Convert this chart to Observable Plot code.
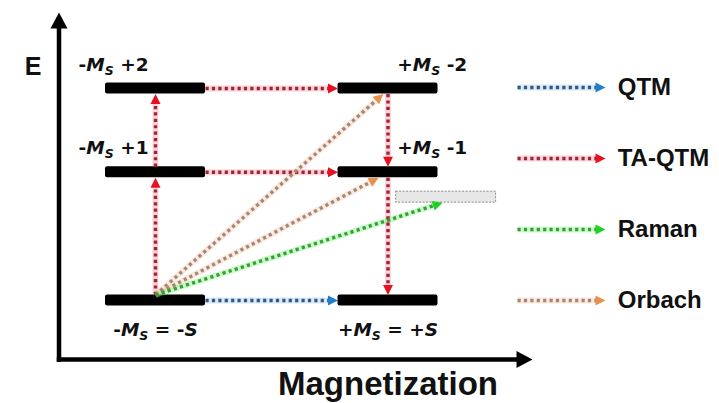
<!DOCTYPE html>
<html>
<head>
<meta charset="utf-8">
<script src="https://cdn.jsdelivr.net/npm/d3@7"></script>
<script src="https://cdn.jsdelivr.net/npm/@observablehq/plot@0.6"></script>
<style>
html, body { margin: 0; padding: 0; background: #fff; }
</style>
</head>
<body>
<script>
// ---------- data ----------
const levelIds    = ["L0", "L1", "L2", "R0", "R1", "R2"];
const levelM      = [-1, -1, -1, 1, 1, 1];          // magnetization side
const levelE      = [0, 1.21, 2, 0, 1.21, 2];       // energy
const levelLabels = ["-M_S = -S", "-M_S +1", "-M_S +2", "+M_S = +S", "+M_S -1", "+M_S -2"];
const virtualM = 1.5, virtualE = 0.975;             // Raman virtual state

const processes = ["QTM", "TA-QTM", "Raman", "Orbach"];

// [process, from level, from side, to level, to side, landing magnetization]
const transitions = [
  ["QTM",    "L0", "right",  "R0", "left"],
  ["TA-QTM", "L0", "top",    "L1", "bottom"],
  ["TA-QTM", "L1", "top",    "L2", "bottom"],
  ["TA-QTM", "L2", "right",  "R2", "left"],
  ["TA-QTM", "L1", "right",  "R1", "left"],
  ["TA-QTM", "R2", "bottom", "R1", "top"],
  ["TA-QTM", "R1", "bottom", "R0", "top"],
  ["Orbach", "L0", "top",    "R2", "bottom", 0.96],
  ["Orbach", "L0", "top",    "R1", "bottom", 0.92],
  ["Raman",  "L0", "top",    "V",  "bottom", 1.47]
];

const axisTitles = ["E", "Magnetization"];

// ---------- styles / layout ----------
const headColor = {"QTM": "#1f7fd0", "TA-QTM": "#e8101e", "Raman": "#22d022", "Orbach": "#e8914e"};
const dotColor  = {"QTM": "#34587f", "TA-QTM": "#a02436", "Raman": "#35a035", "Orbach": "#a3877a"};
const haloColor = {"QTM": "#7fb6e6", "TA-QTM": "#f27080", "Raman": "#55ee55", "Orbach": "#f6b892"};

const W = 719, H = 403;
const xDomain = [-2.3333, 3.8516];
const yDomain = [-0.9717, 2.8302];
const kx = W / (xDomain[1] - xDomain[0]);
const ky = H / (yDomain[1] - yDomain[0]);
const hw = 50 / kx;   // bar half width
const ht = 5.5 / ky;  // bar half thickness

const levels = levelIds.map((id, i) => ({id, m: levelM[i], e: levelE[i], label: levelLabels[i]}));
const byId = Object.fromEntries(levels.map(d => [d.id, d]));
byId.V = {id: "V", m: virtualM, e: virtualE};

function attach(id, side, at) {
  const L = byId[id];
  if (side === "right") return [L.m + hw, L.e];
  if (side === "left") return [L.m - hw, L.e];
  if (side === "top") return [at ?? L.m, L.e + ht];
  return [at ?? L.m, L.e - ht];
}
function withRot(d) {
  d.rot = Math.atan2((d.x2 - d.x1) * kx, (d.y2 - d.y1) * ky) * 180 / Math.PI;
  return d;
}
const arrows = transitions.map(([p, f, fs, t, ts, at]) => {
  const [x1, y1] = attach(f, fs);
  const [x2, y2] = attach(t, ts, at);
  return withRot({p, x1, y1, x2, y2});
});

// legend rows
const legX1 = 2.114, legX2 = 2.871, legTextX = 2.976, legTopE = 2.01, legStep = 0.67;
const legend = processes.map((p, i) => withRot({p, x1: legX1, x2: legX2, y1: legTopE - i * legStep, y2: legTopE - i * legStep}));

// axes
const axisM = -1.83, axisE = -0.557, axisTopE = 2.717, axisRightM = 2.243;
const axisSegs = [
  withRot({x1: axisM, y1: axisE, x2: axisM, y2: axisTopE}),
  withRot({x1: axisM, y1: axisE, x2: axisRightM, y2: axisE})
];

const triHead = {
  draw(ctx, l, r) { ctx.moveTo(0, -l); ctx.lineTo(r, 0); ctx.lineTo(-r, 0); ctx.closePath(); }
};

function arrowMarks(data, label) {
  return [
    Plot.arrow(data, {x1: "x1", y1: "y1", x2: "x2", y2: "y2", stroke: d => haloColor[d.p],
      strokeWidth: 6, strokeOpacity: 0.3, headLength: 0, insetEnd: 6, strokeLinecap: "butt", ariaLabel: label + " halo"}),
    Plot.arrow(data, {x1: "x1", y1: "y1", x2: "x2", y2: "y2", stroke: d => dotColor[d.p],
      strokeWidth: 3.4, strokeDasharray: "3.2,3.2", headLength: 0, insetEnd: 7, strokeLinecap: "butt", ariaLabel: label + " dots"}),
    Plot.vector(data, {x: "x2", y: "y2", rotate: "rot", length: 10, r: 5, anchor: "end", shape: triHead,
      fill: d => headColor[d.p], stroke: "none", ariaLabel: label + " heads"})
  ];
}

const labelFont = {fontFamily: "DejaVu Sans", fontWeight: "bold", fontSize: 18.5, fill: "#111", lineAnchor: "bottom"};

const svg = Plot.plot({
  width: W, height: H, margin: 0,
  x: {domain: xDomain, axis: null},
  y: {domain: yDomain, axis: null},
  color: {type: "identity"},
  style: {background: "#fff", overflow: "visible"},
  marks: [
    // axes
    Plot.arrow(axisSegs, {x1: "x1", y1: "y1", x2: "x2", y2: "y2", stroke: "#000", strokeWidth: 4.5,
      headLength: 0, insetEnd: 12, strokeLinecap: "square", ariaLabel: "axis shafts"}),
    Plot.vector(axisSegs, {x: "x2", y: "y2", rotate: "rot", length: 16, r: 8.5, anchor: "end", shape: triHead,
      fill: "#000", stroke: "none", ariaLabel: "axis heads"}),
    Plot.text([axisTitles[0]], {x: () => -2.054, y: () => 2.132, text: d => d, fontFamily: "Liberation Sans",
      fontWeight: "bold", fontSize: 25, fill: "#111", lineAnchor: "bottom", ariaLabel: "axis title"}),
    Plot.text([axisTitles[1]], {x: () => 1.0, y: () => -0.896, text: d => d, fontFamily: "Liberation Sans",
      fontWeight: "bold", fontSize: 33, fill: "#111", lineAnchor: "bottom", ariaLabel: "axis title"}),
    // levels
    Plot.rect(levels, {x1: d => d.m - hw, x2: d => d.m + hw, y1: d => d.e - ht, y2: d => d.e + ht,
      fill: "#000", rx: 2, ariaLabel: "level bars"}),
    Plot.rect([byId.V], {x1: d => d.m - hw, x2: d => d.m + hw, y1: d => d.e - ht, y2: d => d.e + ht,
      fill: "#e6e6e6", stroke: "#8a8a8a", strokeDasharray: "2,1.5", strokeWidth: 1, ariaLabel: "virtual level"}),
    // transitions
    ...arrowMarks(arrows, "transitions"),
    // level labels
    Plot.text(levels.filter(d => d.e > 0 && d.m < 0), {x: d => d.m - 0.06, y: "e", text: "label",
      textAnchor: "end", dy: -18, ...labelFont, ariaLabel: "level labels"}),
    Plot.text(levels.filter(d => d.e > 0 && d.m > 0), {x: d => d.m + 0.08, y: "e", text: "label",
      textAnchor: "start", dy: -18, ...labelFont, ariaLabel: "level labels"}),
    Plot.text(levels.filter(d => d.e === 0), {x: "m", y: "e", text: "label",
      textAnchor: "middle", dy: 35, ...labelFont, ariaLabel: "level labels"}),
    // legend
    ...arrowMarks(legend, "legend"),
    Plot.text(legend, {x: () => legTextX, y: "y1", text: "p", textAnchor: "start", lineAnchor: "middle",
      fontFamily: "Liberation Sans", fontWeight: "bold", fontSize: 24, fill: "#111", ariaLabel: "legend labels"})
  ]
});

// italic M with subscript S (and italic trailing S) in level labels
const NS = "http://www.w3.org/2000/svg";
svg.querySelectorAll("text").forEach(t => {
  const s = t.textContent;
  const i = s.indexOf("M_S");
  if (i < 0) return;
  while (t.firstChild) t.removeChild(t.firstChild);
  const add = (txt, attrs) => {
    const ts = document.createElementNS(NS, "tspan");
    ts.textContent = txt;
    for (const k in attrs) ts.setAttribute(k, attrs[k]);
    t.appendChild(ts);
    return ts;
  };
  add(s.slice(0, i), {});
  add("M", {"font-style": "italic"});
  add("S", {"font-style": "italic", "font-size": "12.5px", "dy": "4"});
  const rest = s.slice(i + 3);
  if (rest.endsWith("S")) {
    add(rest.slice(0, -1), {"dy": "-4"});
    add("S", {"font-style": "italic"});
  } else {
    add(rest, {"dy": "-4"});
  }
});

// soft shadows under black shapes
svg.querySelectorAll("g").forEach(g => {
  const a = g.getAttribute("aria-label") || "";
  if (/level bars|axis shafts|axis heads/.test(a)) g.style.filter = "drop-shadow(1.5px 1.5px 1.2px rgba(0,0,0,0.35))";
  if (/virtual level/.test(a)) g.style.filter = "drop-shadow(1.5px 1.5px 1px rgba(0,0,0,0.3))";
});

document.body.appendChild(svg);
</script>
</body>
</html>
